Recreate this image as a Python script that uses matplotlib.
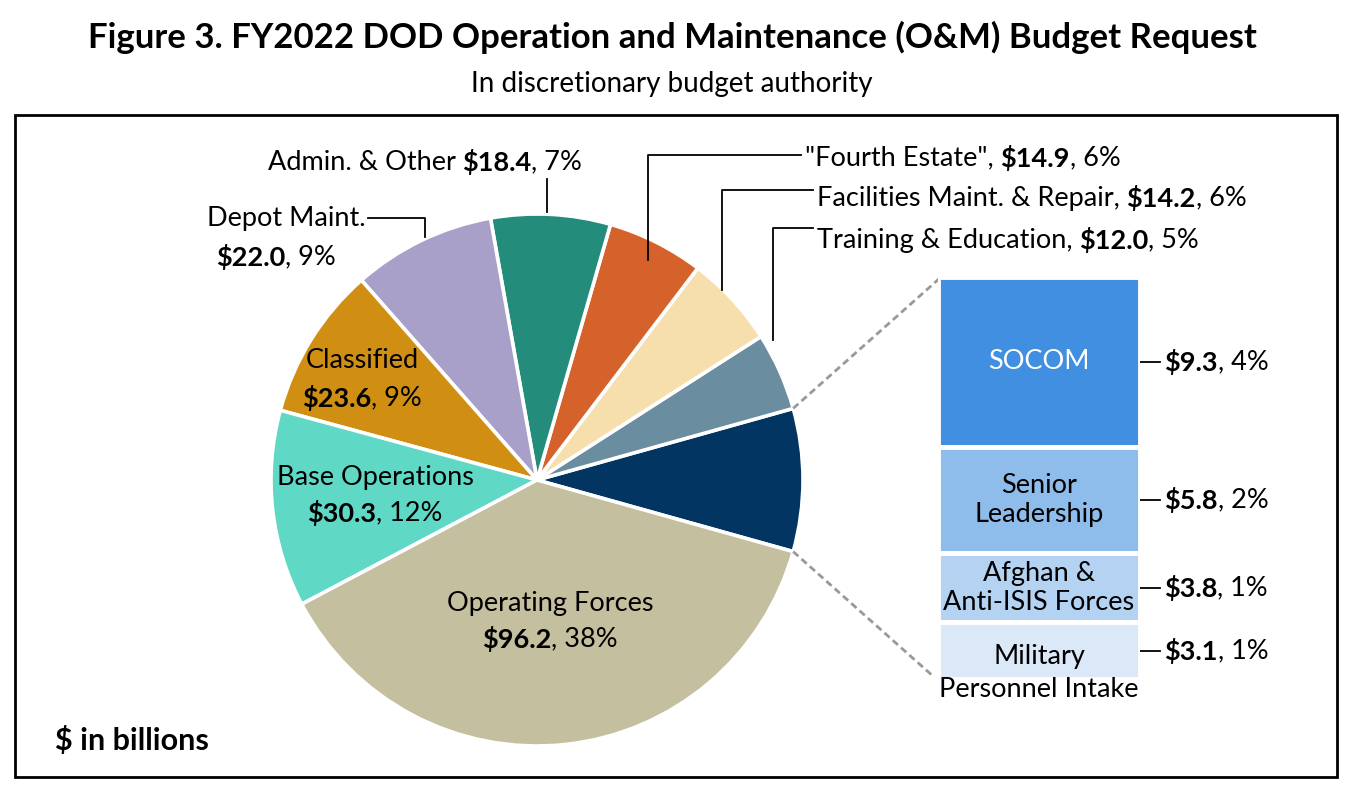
import numpy as np
import matplotlib
matplotlib.use("Agg")
import matplotlib.pyplot as plt
from matplotlib.patches import Rectangle

# ---------------- data ----------------
pie_labels = ["Other", "Training & Education", "Facilities Maint. & Repair", '"Fourth Estate"',
              "Admin. & Other", "Depot Maint.", "Classified", "Base Operations", "Operating Forces"]
bar_labels = ["SOCOM", "Senior\nLeadership", "Afghan &\nAnti-ISIS Forces", "Military\nPersonnel Intake"]
bar_values = [9.3, 5.8, 3.8, 3.1]
bar_pcts = [4, 2, 1, 1]
pie_values = [sum(bar_values), 12.0, 14.2, 14.9, 18.4, 22.0, 23.6, 30.3, 96.2]
pie_pcts = [None, 5, 6, 6, 7, 9, 9, 12, 38]

pie_colors = ["#033563", "#6A8EA0", "#F6DFAC", "#D4622A", "#238C7A",
              "#A9A0CA", "#D08F12", "#5FD8C6", "#C4BF9F"]
bar_colors = ["#418FE0", "#8EBCEB", "#B4D3F3", "#DAE8F8"]

W, H = 1351, 788
FONT = "Lato"
plt.rcParams["font.family"] = [FONT, "DejaVu Sans"]

fig = plt.figure(figsize=(W / 100, H / 100), dpi=100)
ax = fig.add_axes([0, 0, 1, 1])


def Y(p):
    return H - p


# ---------------- pie ----------------
cx, cy, R = 537, Y(480), 266
total = sum(pie_values)
start = -pie_values[0] / total * 360 / 2
wedges, _ = ax.pie(pie_values, colors=pie_colors, startangle=start, counterclock=True,
                   center=(cx, cy), radius=R,
                   wedgeprops=dict(edgecolor="white", linewidth=2.6))
ax.set_xlim(0, W)
ax.set_ylim(0, H)
ax.set_aspect("equal")
ax.axis("off")

renderer = fig.canvas.get_renderer()
LS = 19.5  # label font size


def rich(x, y, parts, ha="left", size=LS, color="black"):
    """parts: list of (text, bold). y in pixel-from-top."""
    texts = []
    for s, b in parts:
        t = ax.text(0, Y(y), s.lstrip(), fontsize=size, fontweight="bold" if b else "normal",
                    va="center", ha="left", color=color)
        texts.append(t)
    gap = size * 100 / 72 * 0.24
    widths = [t.get_window_extent(renderer).width for t in texts]
    tot = sum(widths) + gap * sum(1 for s, b in parts if s.startswith(" "))
    x0 = {"left": x, "center": x - tot / 2, "right": x - tot}[ha]
    for (s, b), t, wd in zip(parts, texts, widths):
        if s.startswith(" "):
            x0 += gap
        t.set_x(x0)
        x0 += wd


def val(v):
    return f"${v:.1f}"


# Inside labels
rich(362, 360, [("Classified", False)], ha="center")
rich(362, 398, [(val(pie_values[6]), True), (f", {pie_pcts[6]}%", False)], ha="center")
rich(375, 477, [("Base Operations", False)], ha="center")
rich(375, 513, [(val(pie_values[7]), True), (f", {pie_pcts[7]}%", False)], ha="center")
rich(550, 604, [("Operating Forces", False)], ha="center")
rich(550, 639, [(val(pie_values[8]), True), (f", {pie_pcts[8]}%", False)], ha="center")

lc = dict(color="black", lw=1.3)
# Admin
rich(425, 162, [("Admin. & Other", False), (" " + val(pie_values[4]), True), (f", {pie_pcts[4]}%", False)], ha="center")
ax.plot([547, 547], [Y(212), Y(179)], **lc)
# Depot
rich(366, 218, [("Depot Maint.", False)], ha="right")
rich(276, 257, [(val(pie_values[5]), True), (f", {pie_pcts[5]}%", False)], ha="center")
ax.plot([425, 425, 368], [Y(237), Y(218), Y(218)], **lc)
# Fourth estate / Facilities / Training: (index, leader x, leader end y, leader y, text y, text x)
for idx, lx, ley, ly, ty, tx in [(3, 648, 260, 155, 158, 805),
                                 (2, 722, 290, 190, 198, 817),
                                 (1, 773, 340, 228, 240, 817)]:
    ax.plot([lx, lx, tx - 4], [Y(ley), Y(ly), Y(ly)], **lc)
    rich(tx, ty, [(pie_labels[idx] + ",", False), (" " + val(pie_values[idx]), True),
                  (f", {pie_pcts[idx]}%", False)])

# ---------------- stacked bar ----------------
bx0, bx1, by0, by1 = 938, 1140, 277, 679
bax = fig.add_axes([bx0 / W, (H - by1) / H, (bx1 - bx0) / W, (by1 - by0) / H])
bottoms = np.cumsum([0] + bar_values[::-1])[:-1][::-1]
bax.bar([0] * 4, bar_values, bottom=bottoms, width=1.0, color=bar_colors,
        edgecolor="white", linewidth=3.5)
bax.set_xlim(-0.5, 0.5)
bax.set_ylim(0, sum(bar_values))
bax.axis("off")
for i, (lab, v, b) in enumerate(zip(bar_labels, bar_values, bottoms)):
    yc = b + v / 2
    col = "white" if i == 0 else "black"
    off = -22 if i == 3 else 0
    bax.annotate(lab, (0, yc), xytext=(0, off), textcoords="offset pixels",
                 ha="center", va="center", fontsize=LS, color=col,
                 linespacing=1.4 if i == 3 else 1.2, annotation_clip=False)
    # value label with leader
    ydisp = bax.transData.transform((0.5, yc))[1]
    yp = H - ydisp
    ax.plot([bx1 - 1, bx1 + 20], [Y(yp), Y(yp)], **lc)
    rich(bx1 + 24, yp, [(val(v), True), (f", {bar_pcts[i]}%", False)])

# connector dashed lines
a0, a1 = np.deg2rad(start), np.deg2rad(-start)
ax.plot([cx + R * np.cos(a1), bx0 + 2], [cy + R * np.sin(a1), Y(by0 + 1)],
        color="#999999", lw=2, ls=(0, (2.5, 1.5)))
ax.plot([cx + R * np.cos(a0), bx0 - 4], [cy + R * np.sin(a0), Y(by1 - 2)],
        color="#999999", lw=2, ls=(0, (2.5, 1.5)))

# ---------------- titles, frame ----------------
ax.text(672, Y(37), "Figure 3. FY2022 DOD Operation and Maintenance (O&M) Budget Request",
        ha="center", va="center", fontsize=25, fontweight="bold")
ax.text(672, Y(84), "In discretionary budget authority", ha="center", va="center", fontsize=20)
ax.text(55, Y(740), "$ in billions", ha="left", va="center", fontsize=22, fontweight="bold")
ax.add_patch(Rectangle((15, Y(777)), 1322, 662, fill=False, edgecolor="black", lw=2))

fig.savefig("out.png", dpi=100)
